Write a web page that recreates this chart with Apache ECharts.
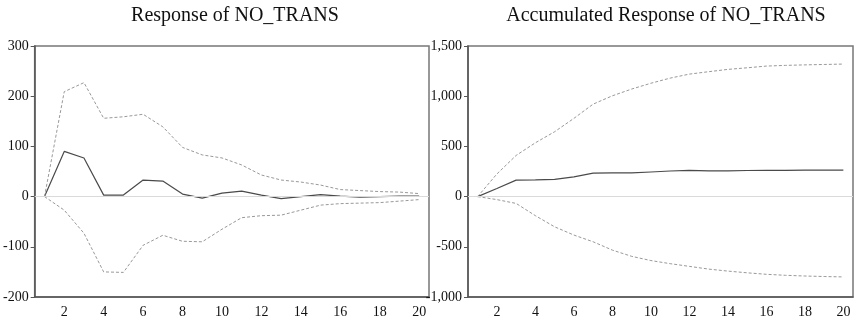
<!DOCTYPE html>
<html>
<head>
<meta charset="utf-8">
<script src="https://cdn.jsdelivr.net/npm/echarts@6/dist/echarts.min.js"></script>
<style>
html, body { margin: 0; padding: 0; background: #fff; }
#main { width: 855px; height: 324px; }
</style>
</head>
<body>
<div id="main"></div>
<script>
// periods 1..20
var periods = ['1','2','3','4','5','6','7','8','9','10','11','12','13','14','15','16','17','18','19','20'];

// Response of NO_TRANS
var resp = [0, 90, 77, 3, 3, 33, 31, 5, -3, 7, 11, 3, -4, 0, 4, 1, -1, 0, 1, 1];
var respUpper = [0, 209, 227, 156, 159, 164, 139, 98, 83, 77, 63, 43, 33, 29, 23, 14, 12, 10, 9, 6];
var respLower = [0, -27, -73, -150, -151, -97, -77, -89, -90, -65, -42, -38, -37, -27, -17, -14, -13, -12, -9, -6];

// Accumulated Response of NO_TRANS
var accum = [0, 80, 164, 167, 171, 197, 234, 237, 236, 245, 255, 262, 256, 256, 260, 262, 262, 263, 263, 264];
var accumUpper = [0, 225, 410, 536, 646, 779, 921, 1004, 1071, 1129, 1180, 1220, 1244, 1267, 1283, 1300, 1307, 1312, 1316, 1320];
var accumLower = [0, -30, -68, -190, -301, -383, -450, -533, -595, -637, -668, -695, -722, -742, -759, -774, -784, -791, -796, -800];

var font = 'Liberation Serif';
var axisCol = '#555';

function xAxisFor(gi) {
	return {
		type: 'category',
		gridIndex: gi,
		data: periods,
		boundaryGap: true,
		axisLine: {onZero: false, lineStyle: {color: axisCol, width: 1.5}},
		axisTick: {interval: 0, length: 5, lineStyle: {color: axisCol}},
		axisLabel: {
			interval: function (i) { return i % 2 === 1; },
			fontFamily: font, fontSize: 14, color: '#111', margin: 8
		},
		splitLine: {show: false}
	};
}

function yAxisFor(gi, min, max, step) {
	return {
		type: 'value',
		gridIndex: gi,
		min: min, max: max, interval: step,
		axisLine: {show: true, onZero: false, lineStyle: {color: axisCol, width: 1.5}},
		axisTick: {show: true, length: 4, lineStyle: {color: axisCol}},
		axisLabel: {
			fontFamily: font, fontSize: 14, color: '#111', margin: 6,
			formatter: function (v) { return v.toLocaleString('en-US'); }
		},
		splitLine: {show: false}
	};
}

function line(gi, data, dashed, zero) {
	var s = {
		type: 'line',
		xAxisIndex: gi, yAxisIndex: gi,
		data: data,
		symbol: 'none',
		silent: true,
		lineStyle: dashed
			? {color: '#999', width: 1, type: [3, 2]}
			: {color: '#4a4a4a', width: 1.2}
	};
	if (zero) {
		s.markLine = {
			silent: true, symbol: 'none', label: {show: false},
			lineStyle: {color: '#dadada', width: 1, type: 'solid'},
			data: [{yAxis: 0}]
		};
	}
	return s;
}

var myChart = echarts.init(document.getElementById('main'), null, {renderer: 'canvas'});
var option = {
	animation: false,
	backgroundColor: '#fff',
	title: [
		{text: 'Response of NO_TRANS', left: 230, top: 1, textAlign: 'center',
			textStyle: {fontFamily: font, fontSize: 20, fontWeight: 'normal', color: '#111'}},
		{text: 'Accumulated Response of NO_TRANS', left: 661, top: 1, textAlign: 'center',
			textStyle: {fontFamily: font, fontSize: 20, fontWeight: 'normal', color: '#111'}}
	],
	grid: [
		{left: 34, right: 426, top: 46, bottom: 27, show: true, borderColor: '#777', borderWidth: 1.5},
		{left: 468, right: 2, top: 46, bottom: 27, show: true, borderColor: '#777', borderWidth: 1.5}
	],
	xAxis: [xAxisFor(0), xAxisFor(1)],
	yAxis: [yAxisFor(0, -200, 300, 100), yAxisFor(1, -1000, 1500, 500)],
	series: [
		line(0, resp, false, true),
		line(0, respUpper, true),
		line(0, respLower, true),
		line(1, accum, false, true),
		line(1, accumUpper, true),
		line(1, accumLower, true)
	]
};
myChart.setOption(option);
</script>
</body>
</html>
